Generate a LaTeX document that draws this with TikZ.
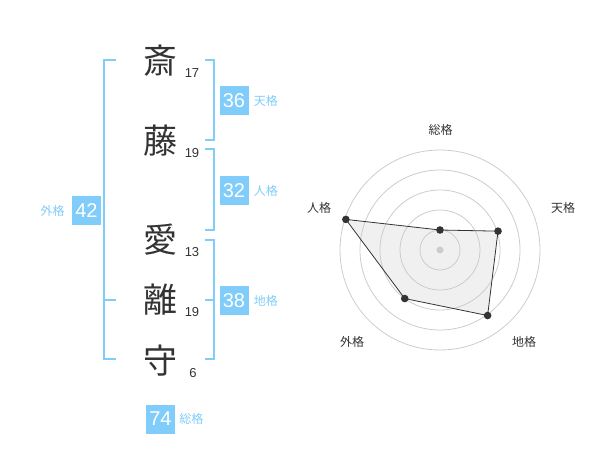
\documentclass[tikz,border=0pt]{standalone}
\usepackage{fontspec}
\setmainfont{Liberation Sans}
\newfontfamily\jfont{Noto Sans CJK JP}
\usetikzlibrary{positioning}
\definecolor{kakublue}{RGB}{128,204,250}
\definecolor{moji}{RGB}{51,51,51}
\definecolor{wa}{RGB}{204,204,204}
\tikzset{
    kanji/.style={font=\jfont\fontsize{34}{34}\selectfont, text=moji, inner sep=0pt},
    kakusu/.style={font=\fontsize{13}{13}\selectfont, text=moji, inner sep=0pt},
    kaku/.style={fill=kakublue, text=white, minimum size=29pt, inner sep=0pt,
        font=\fontsize{20}{20}\selectfont},
    kakuname/.style={font=\jfont\fontsize{12}{12}\selectfont, text=kakublue, inner sep=0pt},
    radarname/.style={font=\jfont\fontsize{12}{12}\selectfont, text=moji, inner sep=0pt},
    bracket/.style={kakublue, line width=2pt},
    pt/.style={fill=moji, draw=none},
}
\begin{document}
\begin{tikzpicture}[x=1pt,y=-1pt]
        \useasboundingbox (0,0) rectangle (600,470);

        % name, strokes
        \node[kanji] (sai) at (160,61) {斎};
        \node[kanji] (tou) at (160,141) {藤};
        \node[kanji] (ai)  at (160,240) {愛};
        \node[kanji] (ri)  at (160,300) {離};
        \node[kanji] (mamoru) at (160,361) {守};
        \node[kakusu] (sai-n) at (192,73) {17};
        \node[kakusu] (tou-n) at (192,153) {19};
        \node[kakusu] (ai-n)  at (192,252) {13};
        \node[kakusu] (ri-n)  at (192,312) {19};
        \node[kakusu] (mamoru-n) at (193,373) {6};

        % brackets
        \draw[bracket] (116,60) -- (104,60) -- (104,359) -- (116,359) (104,300) -- (116,300);
        \draw[bracket] (205,60) -- (214,60) -- (214,140) -- (205,140);
        \draw[bracket] (205,149) -- (214,149) -- (214,230) -- (205,230);
        \draw[bracket] (205,240) -- (214,240) -- (214,359) -- (205,359) (214,300) -- (205,300);

        % kaku
        \node[kaku] (ten) at (234,100.5) {36};
        \node[kakuname, right=5pt of ten] (ten-l) {天格};
        \node[kaku] (jin) at (234,190.5) {32};
        \node[kakuname, right=5pt of jin] (jin-l) {人格};
        \node[kaku] (chi) at (234,300.5) {38};
        \node[kakuname, right=5pt of chi] (chi-l) {地格};
        \node[kaku] (gai) at (86.5,210.5) {42};
        \node[kakuname, left=7pt of gai] (gai-l) {外格};
        \node[kaku] (sou) at (160.5,419) {74};
        \node[kakuname, right=4pt of sou] (sou-l) {総格};

        % radar
        \coordinate (c) at (440,250);
        \path (c) ++(-90:20) coordinate (r-sou)
              (c) ++(-18:61) coordinate (r-ten)
              (c) ++(54:81) coordinate (r-chi)
              (c) ++(126:60) coordinate (r-gai)
              (c) ++(-162:99) coordinate (r-jin);
        \fill[black!6] (r-sou) -- (r-ten) -- (r-chi) -- (r-gai) -- (r-jin) -- cycle;
        \foreach \r in {20,40,...,100}
            \draw[wa, line width=0.8pt] (c) circle (\r);
        \draw[moji, line width=0.8pt] (r-sou) -- (r-ten) -- (r-chi) -- (r-gai) -- (r-jin) -- cycle;
        \fill[wa] (c) circle (3.5);
        \foreach \p in {r-sou,r-ten,r-chi,r-gai,r-jin}
            \fill[pt] (\p) circle (3.8);

        \node[radarname] (l-sou) at (440.5,130) {総格};
        \node[radarname] (l-ten) at (563,208) {天格};
        \node[radarname] (l-chi) at (524,342) {地格};
        \node[radarname] (l-gai) at (352,342) {外格};
        \node[radarname] (l-jin) at (319,208) {人格};
\end{tikzpicture}
\end{document}
